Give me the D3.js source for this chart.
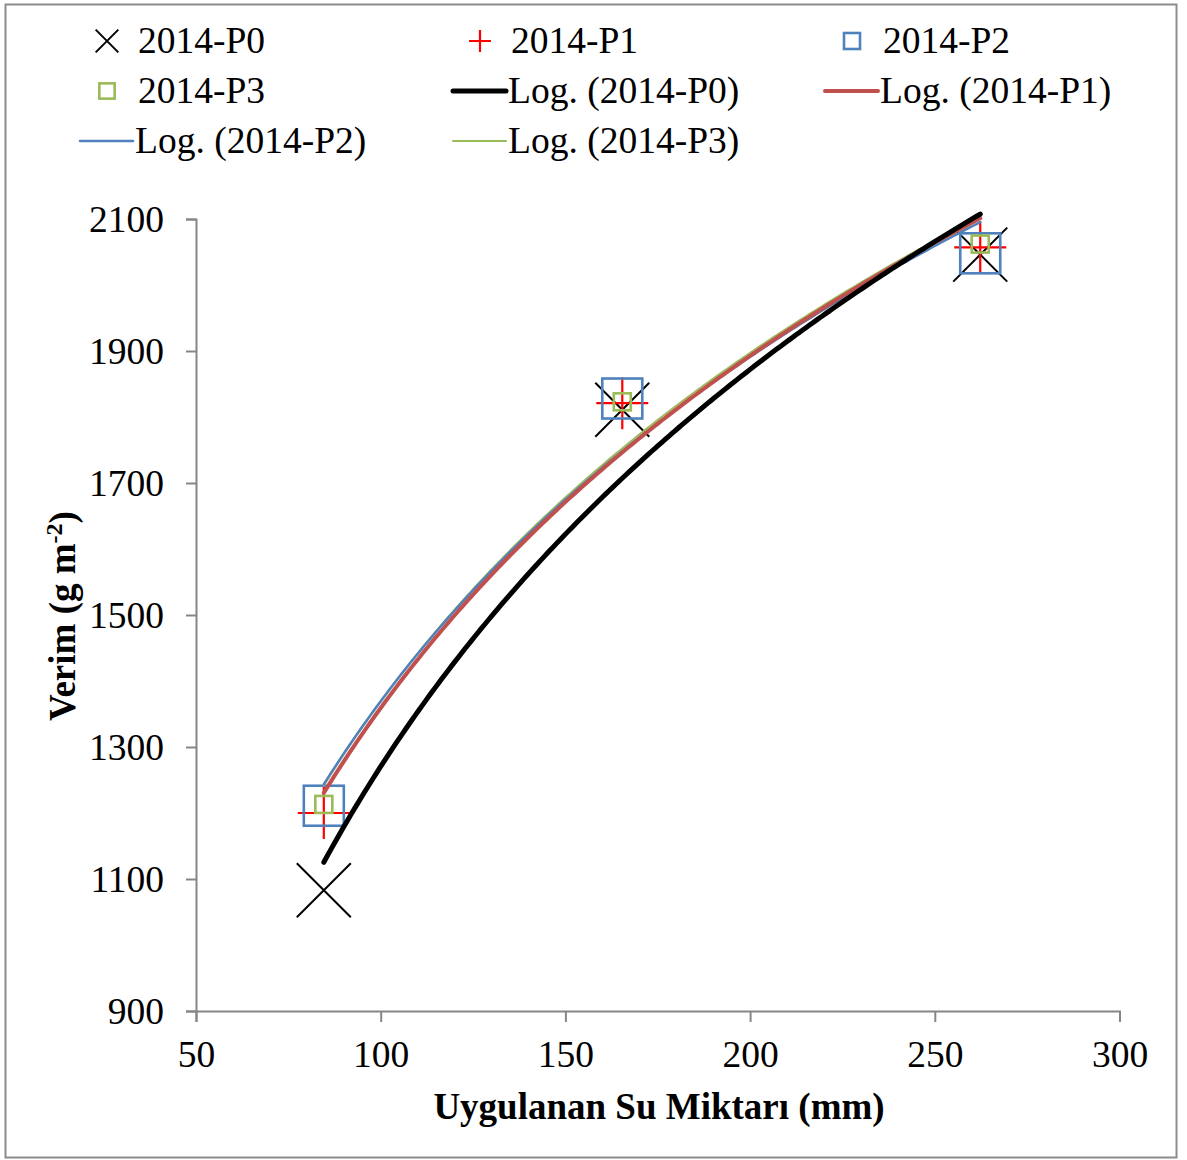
<!DOCTYPE html>
<html>
<head>
<meta charset="utf-8">
<script src="https://cdn.jsdelivr.net/npm/d3@7"></script>
<style>
  html, body { margin: 0; padding: 0; background: #fff; }
  svg text { font-family: "Liberation Serif", "Times New Roman", serif; fill: #000; }
</style>
</head>
<body>
<svg id="chart" width="1187" height="1160"></svg>
<script>
// Applied water (mm) and yield (g m-2) per treatment
const waterMm = [84.6, 165.4, 262.3];
const yieldP0 = [1083, 1811, 2046];
const yieldP1 = [1200, 1821, 2057];
const yieldP2 = [1211, 1828, 2048];
const yieldP3 = [1213, 1823, 2062];
const seriesNames = ["2014-P0", "2014-P1", "2014-P2", "2014-P3"];
const xTicks = [50, 100, 150, 200, 250, 300];
const yTicks = [900, 1100, 1300, 1500, 1700, 1900, 2100];

const series = [
  { name: seriesNames[0], values: yieldP0, color: "#000000", marker: "x", lineColor: "#000000", lineWidth: 5 },
  { name: seriesNames[1], values: yieldP1, color: "#FF0000", marker: "plus", lineColor: "#C0504D", lineWidth: 4 },
  { name: seriesNames[2], values: yieldP2, color: "#4F81BD", marker: "bigsquare", lineColor: "#4F81BD", lineWidth: 2.5 },
  { name: seriesNames[3], values: yieldP3, color: "#9BBB59", marker: "square", lineColor: "#9BBB59", lineWidth: 2 }
];

const svg = d3.select("#chart");
const axisGray = "#868686";
const fontSize = 37.5;

// outer frame
svg.append("rect").attr("x", 5.5).attr("y", 4.5).attr("width", 1171).attr("height", 1153)
  .attr("fill", "none").attr("stroke", "#8c8c8c").attr("stroke-width", 2);

const x = d3.scaleLinear().domain([50, 300]).range([196, 1119.5]);
const y = d3.scaleLinear().domain([900, 2100]).range([1011, 219]);

// y axis
const yAxis = svg.append("g").attr("transform", "translate(196,0)")
  .call(d3.axisLeft(y).tickValues(yTicks).tickSize(10).tickPadding(22).tickFormat(d3.format("d")));
yAxis.select(".domain").attr("stroke", axisGray).attr("stroke-width", 2);
yAxis.selectAll(".tick line").attr("stroke", axisGray).attr("stroke-width", 2);
yAxis.selectAll(".tick text").attr("font-size", fontSize).attr("fill", "#000")
  .style("font-family", "'Liberation Serif', serif");

// x axis
const xAxis = svg.append("g").attr("transform", "translate(0,1011)")
  .call(d3.axisBottom(x).tickValues(xTicks).tickSize(11).tickPadding(18).tickFormat(d3.format("d")));
xAxis.select(".domain").attr("stroke", axisGray).attr("stroke-width", 2);
xAxis.selectAll(".tick line").attr("stroke", axisGray).attr("stroke-width", 2);
xAxis.selectAll(".tick text").attr("font-size", fontSize).attr("fill", "#000")
  .style("font-family", "'Liberation Serif', serif");

// axis titles
svg.append("text").attr("x", 659).attr("y", 1119).attr("text-anchor", "middle")
  .attr("font-size", 37).attr("font-weight", "bold").text("Uygulanan Su Miktarı (mm)");

const yTitle = svg.append("text").attr("transform", "translate(75,616) rotate(-90)")
  .attr("text-anchor", "middle").attr("font-size", 37).attr("font-weight", "bold");
yTitle.append("tspan").text("Verim (g m");
yTitle.append("tspan").attr("dy", -13).attr("font-size", 24).text("-2");
yTitle.append("tspan").attr("dy", 13).text(")");

// marker drawing
function drawMarker(g, type, cx, cy, color, scale) {
  const s = scale;
  if (type === "x") {
    const h = 27 * s;
    g.append("path").attr("d", `M${cx - h},${cy - h}L${cx + h},${cy + h}M${cx - h},${cy + h}L${cx + h},${cy - h}`)
      .attr("stroke", color).attr("stroke-width", 2).attr("fill", "none");
  } else if (type === "plus") {
    const h = 26 * s;
    g.append("path").attr("d", `M${cx - h},${cy}L${cx + h},${cy}M${cx},${cy - h}L${cx},${cy + h}`)
      .attr("stroke", color).attr("stroke-width", 2.2).attr("fill", "none");
  } else if (type === "bigsquare") {
    const h = 20 * s;
    g.append("rect").attr("x", cx - h).attr("y", cy - h).attr("width", 2 * h).attr("height", 2 * h)
      .attr("stroke", color).attr("stroke-width", 2.6).attr("fill", "none");
  } else {
    const h = 8.5 * s;
    g.append("rect").attr("x", cx - h).attr("y", cy - h).attr("width", 2 * h).attr("height", 2 * h)
      .attr("stroke", color).attr("stroke-width", 2.6).attr("fill", "none");
  }
}

// data markers
const markG = svg.append("g");
series.forEach(s => {
  s.values.forEach((v, i) => drawMarker(markG, s.marker, x(waterMm[i]), y(v), s.color, 1));
});

// logarithmic trendlines y = a ln(x) + b, least squares fit on each series
function logFit(xs, ys) {
  const lx = xs.map(Math.log);
  const mx = d3.mean(lx), my = d3.mean(ys);
  const sxy = d3.sum(lx, (l, i) => (l - mx) * (ys[i] - my));
  const sxx = d3.sum(lx, l => (l - mx) * (l - mx));
  const a = sxy / sxx;
  return { a, b: my - a * mx };
}
const xMin = d3.min(waterMm), xMax = d3.max(waterMm);
const samples = d3.range(0, 201).map(k => xMin + (xMax - xMin) * k / 200);
const line = d3.line().x(d => x(d[0])).y(d => y(d[1])).curve(d3.curveLinear);
const lineG = svg.append("g");
[3, 2, 1, 0].forEach(idx => {
  const s = series[idx];
  const f = logFit(waterMm, s.values);
  lineG.append("path").datum(samples.map(v => [v, f.a * Math.log(v) + f.b]))
    .attr("d", line).attr("fill", "none").attr("stroke", s.lineColor)
    .attr("stroke-width", s.lineWidth).attr("stroke-linecap", "round");
});

// legend
const legendCols = [80, 453, 825];
const legendRows = [41, 91, 141];
const legendItems = [
  ...series.map(s => ({ label: s.name, kind: "marker", s })),
  ...series.map(s => ({ label: "Log. (" + s.name + ")", kind: "line", s }))
];
const legG = svg.append("g");
legendItems.forEach((item, i) => {
  const kx = legendCols[i % 3], ky = legendRows[Math.floor(i / 3)];
  if (item.kind === "marker") {
    const scale = item.s.marker === "bigsquare" ? 0.4 : item.s.marker === "square" ? 0.9 : 0.42;
    drawMarker(legG, item.s.marker, kx + 27, ky, item.s.color, scale);
    legG.append("text").attr("x", kx + 58).attr("y", ky + 12).attr("font-size", fontSize).text(item.label);
  } else {
    legG.append("line").attr("x1", kx).attr("x2", kx + 53).attr("y1", ky).attr("y2", ky)
      .attr("stroke", item.s.lineColor).attr("stroke-width", item.s.lineWidth).attr("stroke-linecap", "round");
    legG.append("text").attr("x", kx + 55).attr("y", ky + 12).attr("font-size", fontSize).text(item.label);
  }
});
</script>
</body>
</html>
